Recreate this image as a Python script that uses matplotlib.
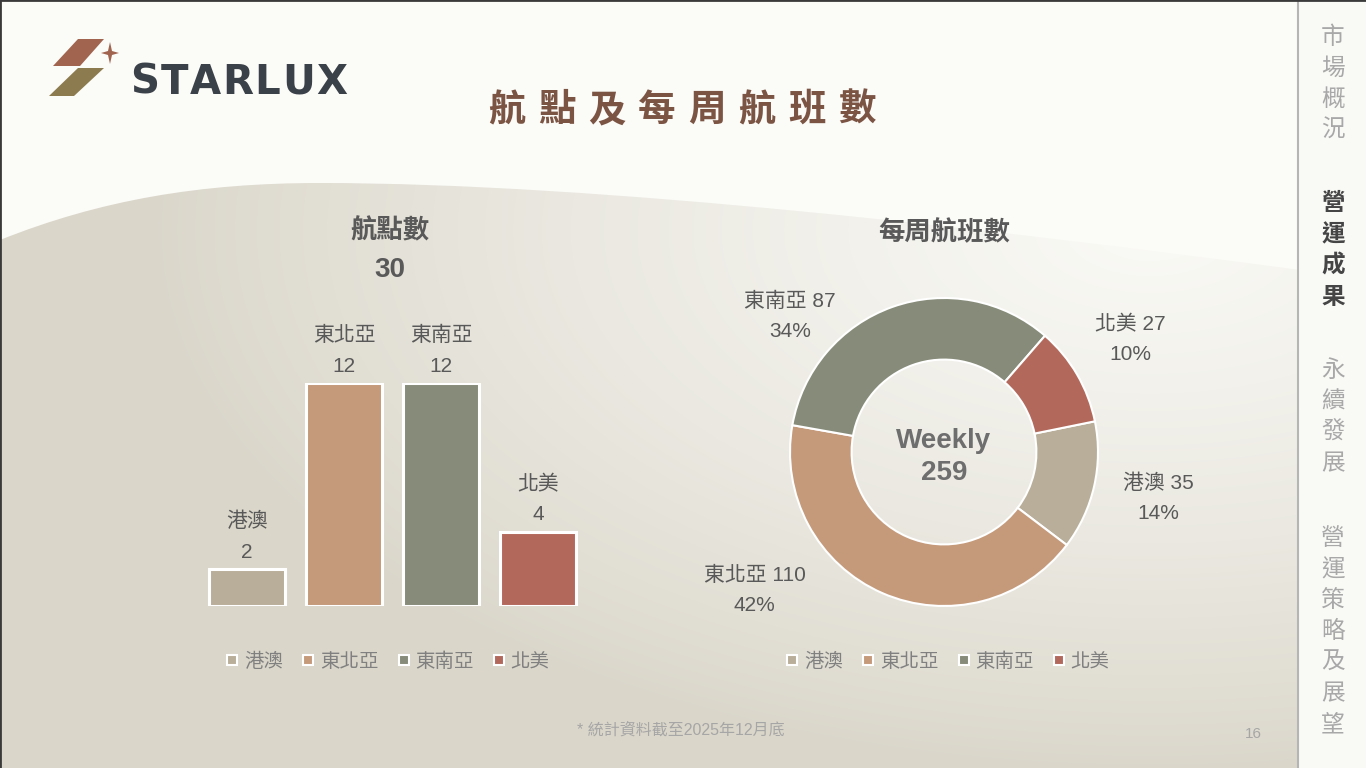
import numpy as np
import matplotlib.pyplot as plt
from matplotlib.path import Path
from matplotlib.patches import PathPatch, Polygon, Rectangle
from matplotlib.lines import Line2D

plt.rcParams['font.family'] = ['Liberation Sans', 'Noto Sans CJK TC', 'DejaVu Sans']

# data
regions = ["港澳", "東北亞", "東南亞", "北美"]
colors = ["#b9ae99", "#c59a7b", "#868c79", "#b2695c"]
destinations = [2, 12, 12, 4]
weekly_flights = [35, 110, 87, 27]
# label anchors for the donut (in donut radius units)
donut_label_pos = [(1.39, -0.30), (-1.23, -0.90), (-1.0, 0.88), (1.21, 0.73)]

title = "航點及每周航班數"
sidebar = [("市場概況", False), ("營運成果", True), ("永續發展", False), ("營運策略及展望", False)]
sidebar_y = [38, 204, 371, 539]
footnote = "* 統計資料截至2025年12月底"
page_no = "16"

W, H = 1366, 768
fig = plt.figure(figsize=(W / 100, H / 100), dpi=100)
fig.patch.set_facecolor("#fbfbf7")

# background axes in pixel coordinates
bg = fig.add_axes([0, 0, 1, 1])
bg.set_xlim(0, W)
bg.set_ylim(H, 0)
bg.axis("off")

# wave with soft gradient
X, Y = np.meshgrid(np.arange(W), np.arange(H))
d = np.sqrt(((X - 1150) / 1000.0) ** 2 + ((Y - 230) / 540.0) ** 2)
t = np.clip(1 - d, 0, 1) ** 0.8
dark = np.array([218, 214, 202]) / 255.0
light = np.array([250, 250, 246]) / 255.0
grad = dark[None, None, :] + (light - dark)[None, None, :] * t[..., None]
im = bg.imshow(grad, extent=(0, W, H, 0), aspect="auto", zorder=0)
verts = [(0, 240), (100, 200), (200, 183), (320, 183),
         (600, 183), (1000, 230), (1300, 270),
         (1300, H), (0, H), (0, 240)]
codes = [Path.MOVETO, Path.CURVE4, Path.CURVE4, Path.CURVE4,
         Path.CURVE4, Path.CURVE4, Path.CURVE4,
         Path.LINETO, Path.LINETO, Path.CLOSEPOLY]
wave = PathPatch(Path(verts, codes), transform=bg.transData, facecolor="none", edgecolor="none")
bg.add_patch(wave)
im.set_clip_path(wave)
bg.set_xlim(0, W)
bg.set_ylim(H, 0)

# sidebar
bg.add_patch(Rectangle((1298, 0), W - 1298, H, facecolor="#f9f9f6", edgecolor="none", zorder=1))
bg.plot([1298, 1298], [0, H], color="#b5b5b5", lw=1.5, zorder=2)
for (word, active), y0 in zip(sidebar, sidebar_y):
    for k, ch in enumerate(word):
        bg.text(1333, y0 + k * 31, ch, ha="center", va="center", fontsize=17,
                color="#454545" if active else "#a8a8a8",
                fontweight="bold" if active else "normal", zorder=3)

# frame lines at top/left
bg.plot([0, 0], [0, H], color="#3a3a3a", lw=2, zorder=5)
bg.plot([0, W], [0, 0], color="#3a3a3a", lw=2, zorder=5)

# logo
bg.add_patch(Polygon([(53, 66), (78, 39), (104, 39), (80, 66)], closed=True,
                     facecolor="#a0644f", edgecolor="none", zorder=3))
bg.add_patch(Polygon([(49, 96), (78, 68), (104, 68), (74, 96)], closed=True,
                     facecolor="#8b7b4f", edgecolor="none", zorder=3))
sx, sy = 110, 53
star = [(sx, sy - 11), (sx + 2, sy - 2), (sx + 9, sy), (sx + 2, sy + 2),
        (sx, sy + 11), (sx - 2, sy + 2), (sx - 9, sy), (sx - 2, sy - 2)]
bg.add_patch(Polygon(star, closed=True, facecolor="#a0644f", edgecolor="none", zorder=3))

# STARLUX wordmark with letter spacing
fig.canvas.draw()
renderer = fig.canvas.get_renderer()
cursor = 130
for ch in "STARLUX":
    tx = bg.text(cursor, 83, ch, ha="left", va="center", fontsize=29, fontweight="bold",
                 family="DejaVu Sans", color="#3b4148", zorder=3)
    cursor += tx.get_window_extent(renderer).width + 1.5

# title, spaced characters
for k, ch in enumerate(title):
    bg.text(507 + k * 50, 111, ch, ha="center", va="center", fontsize=27,
            fontweight="bold", color="#7b5444", zorder=3)

bg.text(390, 231, "航點數", ha="center", va="center", fontsize=19, fontweight="bold", color="#595959", zorder=3)
bg.text(390, 270, str(sum(destinations)), ha="center", va="center", fontsize=20, fontweight="bold", color="#595959", zorder=3)
bg.text(944, 232, "每周航班數", ha="center", va="center", fontsize=19, fontweight="bold", color="#595959", zorder=3)

bg.text(681, 730, footnote, ha="center", va="center", fontsize=11.5, color="#a6a6a6", zorder=3)
bg.text(1253, 734, page_no, ha="center", va="center", fontsize=11, color="#a6a6a6", zorder=3)

# bar chart
ax1 = fig.add_axes([198.5 / W, (H - 606) / H, 388 / W, 223 / H])
ax1.patch.set_alpha(0)
x = np.arange(len(regions))
ax1.bar(x, destinations, width=0.78, color=colors, edgecolor="white", linewidth=2.2)
ax1.set_xlim(-0.5, 3.5)
ax1.set_ylim(0, 12)
ax1.axis("off")
for xi, v, name in zip(x, destinations, regions):
    ax1.annotate(str(v), (xi, v), xytext=(0, 12), textcoords="offset points",
                 ha="center", va="center", fontsize=15, color="#595959", annotation_clip=False)
    ax1.annotate(name, (xi, v), xytext=(0, 34), textcoords="offset points",
                 ha="center", va="center", fontsize=15, color="#595959", annotation_clip=False)

# donut chart
ax2 = fig.add_axes([(944 - 154) / W, (H - 452 - 154) / H, 308 / W, 308 / H])
ax2.patch.set_alpha(0)
ax2.pie(weekly_flights, colors=colors, startangle=11.5, counterclock=False,
        wedgeprops=dict(width=0.40, edgecolor="white", linewidth=1.5))
ax2.set_xlim(-1, 1)
ax2.set_ylim(-1, 1)
ax2.set_aspect("equal")
ax2.axis("off")
total = sum(weekly_flights)
for name, v, (lx, ly) in zip(regions, weekly_flights, donut_label_pos):
    ax2.annotate(f"{name} {v}", (lx, ly), xytext=(0, 11), textcoords="offset points",
                 ha="center", va="center", fontsize=15, color="#595959", annotation_clip=False)
    ax2.annotate(f"{round(v / total * 100)}%", (lx, ly), xytext=(0, -11), textcoords="offset points",
                 ha="center", va="center", fontsize=15, color="#595959", annotation_clip=False)
ax2.text(0, 0.071, "Weekly", ha="center", va="center", fontsize=20, fontweight="bold", color="#6e6e6e")
ax2.text(0, -0.136, str(total), ha="center", va="center", fontsize=20, fontweight="bold", color="#6e6e6e")

# legends
handles = [Line2D([], [], marker="s", linestyle="none", markersize=7, markerfacecolor=c,
                  markeredgecolor="white", markeredgewidth=1.5) for c in colors]
for cx in (388, 948):
    fig.legend(handles, regions, loc="center", bbox_to_anchor=(cx / W, 1 - 662 / H), ncol=4,
               frameon=False, fontsize=14, labelcolor="#808080", handlelength=0.6,
               handletextpad=0.3, columnspacing=1.0)

fig.savefig("out.png", dpi=100, facecolor=fig.get_facecolor())
